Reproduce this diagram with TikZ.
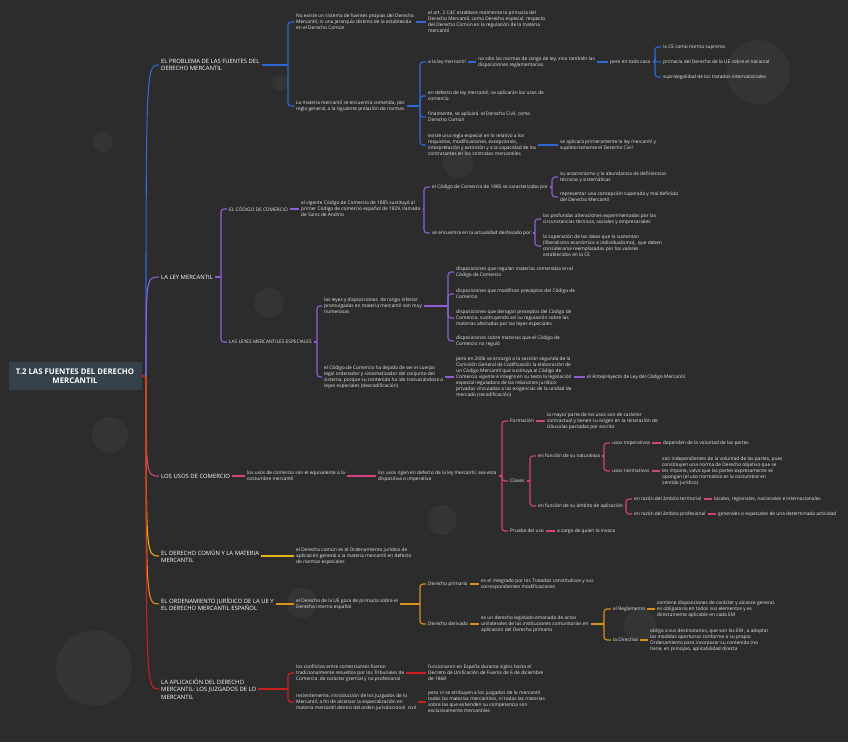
\documentclass[tikz,border=0pt]{standalone}
\usepackage{fontspec}
\setmainfont{Open Sans}
\usetikzlibrary{positioning}

\definecolor{bg}{HTML}{2C2C2C}
\definecolor{spotbg}{HTML}{343434}
\definecolor{rootbg}{HTML}{37414B}
\definecolor{txt}{HTML}{E8E8E8}
\definecolor{cblue}{HTML}{3068D8}
\definecolor{cpurple}{HTML}{8F5FD8}
\definecolor{cpink}{HTML}{D8407F}
\definecolor{cyellow}{HTML}{E3B31C}
\definecolor{corange}{HTML}{D9911A}
\definecolor{cred}{HTML}{C8201E}

\begin{document}
\begin{tikzpicture}[
  x=1pt, y=-1pt,
  every node/.style={text=txt, align=left, inner xsep=2pt, inner ysep=1pt},
  note/.style={anchor=west, font=\fontsize{4.8}{5.9}\selectfont},
  topic/.style={anchor=west, text=white, font=\fontsize{5.9}{7.4}\selectfont},
  root/.style={fill=rootbg, text=white, align=center, font=\bfseries\fontsize{7.8}{9.3}\selectfont,
    minimum width=133pt, minimum height=28pt},
  link/.style={line width=1.1pt},
  fork/.style={link, rounded corners=3pt},
  spot/.style={fill=spotbg}
]
  \fill[bg] (0,0) rectangle (848,742);
  \foreach \x/\y/\r in {103/142/10, 280/83/8, 458/163/15, 758/72/32, 269/303/15, 110/435/18,
                        442/520/15, 302/603/15, 640/625/16, 94/668/38}
    \fill[spot] (\x,\y) circle[radius=\r pt];

  \node[root] (root) at (75,376) {T.2 LAS FUENTES DEL DERECHO\\MERCANTIL};
  \coordinate (trunk) at (146,376);

  % el problema de las fuentes
  \node[topic] (problema) at (159,65) {EL PROBLEMA DE LAS FUENTES DEL\\DERECHO MERCANTIL};
  \node[note] (no-existe) at (294,22) {No existe un sistema de fuentes propias del Derecho\\Mercantil, ni una jerarquía distinta de la establecida\\en el Derecho Común};
  \node[note] (art-2) at (426,22) {el art. 2 CdC establece realmente la primacía del\\Derecho Mercantil, como Derecho especial, respecto\\del Derecho Común en la regulación de la materia\\mercantil};
  \node[note] (prelacion) at (294,106) {La materia mercantil se encuentra sometida, por\\regla general, a la siguiente prelación de normas};
  \node[note] (ley-merc) at (426,62) {a la ley mercantil};
  \node[note] (rango) at (476,62) {no sólo las normas de rango de ley, sino también las\\disposiciones reglamentarias.};
  \node[note] (todo-caso) at (608,62) {pero en todo caso};
  \node[note] (ce) at (661,47) {la CE como norma suprema};
  \node[note] (ue-nac) at (661,62) {primacía del Derecho de la UE sobre el nacional};
  \node[note] (tratados) at (661,77) {supralegalidad de los tratados internacionales};
  \node[note] (usos-def) at (426,96) {en defecto de ley mercantil, se aplicarán los usos de\\comercio};
  \node[note] (civil) at (426,117) {finalmente, se aplicará \ el Derecho Civil, como\\Derecho Común};
  \node[note] (regla-esp) at (426,145) {existe una regla especial en lo relativo a los\\requisitos, modificaciones, excepciones,\\interpretación y extinción y a la capacidad de los\\contratantes en los contratos mercantiles};
  \node[note] (supletorio) at (558,145) {se aplicará primeramente la ley mercantil y\\supletoriamente el Derecho Civil};

  \path (problema.east -| no-existe.west) ++(-6,0) coordinate (f1);
  \draw[link,cblue] (problema.east) -- (f1);
  \foreach \c in {no-existe,prelacion} \draw[fork,cblue] (f1) |- (\c.west);
  \draw[link,cblue] (no-existe) -- (art-2);
  \path (prelacion.east -| ley-merc.west) ++(-6,0) coordinate (f2);
  \draw[link,cblue] (prelacion.east) -- (f2);
  \foreach \c in {ley-merc,usos-def,civil,regla-esp} \draw[fork,cblue] (f2) |- (\c.west);
  \draw[link,cblue] (ley-merc) -- (rango);
  \draw[link,cblue] (rango) -- (todo-caso);
  \path (todo-caso.east -| ce.west) ++(-6,0) coordinate (f3);
  \draw[link,cblue] (todo-caso.east) -- (f3);
  \foreach \c in {ce,ue-nac,tratados} \draw[fork,cblue] (f3) |- (\c.west);
  \draw[link,cblue] (regla-esp) -- (supletorio);

  % la ley mercantil
  \node[topic] (ley-mercantil) at (159,277) {LA LEY MERCANTIL};
  \node[note] (codigo) at (227,209) {EL CÓDIGO DE COMERCIO};
  \node[note] (vigente) at (299,209) {el vigente Código de Comercio de 1885 sustituyó al\\primer Código de comercio español de 1829, llamado\\de Sainz de Andino};
  \node[note] (caracterizaba) at (430,187) {el Código de Comercio de 1885 se caracterizaba por};
  \node[note] (anacronismo) at (558,177) {su anacronismo y la abundancia de deficiencias\\técnicas y sistemáticas};
  \node[note] (concepcion) at (558,197) {representar una concepción superada y mal definida\\del Derecho Mercantil};
  \node[note] (desfasado) at (430,233) {se encuentra en la actualidad desfasado por};
  \node[note] (alteraciones) at (541,219) {las profundas alteraciones experimentadas por las\\circunstancias técnicas, sociales y empresariales};
  \node[note] (superacion) at (541,246) {la superación de las ideas que lo sustentan\\(liberalismo económico e individualismo), \ que deben\\considerarse reemplazadas por los valores\\establecidos en la CE};
  \node[note] (especiales) at (227,342) {LAS LEYES MERCANTILES ESPECIALES};
  \node[note] (numerosas) at (322,306) {las leyes y disposiciones \ de rango inferior\\promulgadas en materia mercantil son muy\\numerosas};
  \node[note] (regulan) at (454,272) {disposiciones que regulan materias contenidas en el\\Código de Comercio};
  \node[note] (modifican) at (454,294) {disposiciones que modifican preceptos del Código de\\Comercio};
  \node[note] (derogan) at (454,318) {disposiciones que derogan preceptos del Código de\\Comercio, sustituyendo así su regulación sobre las\\materias afectadas por las leyes especiales};
  \node[note] (no-regulo) at (454,341) {disposiciones sobre materias que el Código de\\Comercio no reguló};
  \node[note] (descodif) at (322,377) {el Código de Comercio ha dejado de ser el cuerpo\\legal ordenador y sistematizador del conjunto del\\sistema, porque su contenido ha ido trasvasándose a\\leyes especiales (descodificación)};
  \node[note] (recodif) at (454,377) {pero en 2006 se encargó a la sección segunda de la\\Comisión General de Codificación la elaboración de\\un Código Mercantil que sustituya al Código de\\Comercio vigente e integre en su texto la legislación\\especial reguladora de las relaciones jurídico-\\privadas vinculadas a las exigencias de la unidad de\\mercado (recodificación)};
  \node[note] (anteproyecto) at (585,377) {el Anteproyecto de Ley del Código Mercantil};

  \path (ley-mercantil.east -| codigo.west) ++(-6,0) coordinate (f4);
  \draw[link,cpurple] (ley-mercantil.east) -- (f4);
  \foreach \c in {codigo,especiales} \draw[fork,cpurple] (f4) |- (\c.west);
  \draw[link,cpurple] (codigo) -- (vigente);
  \path (vigente.east -| caracterizaba.west) ++(-6,0) coordinate (f5);
  \draw[link,cpurple] (vigente.east) -- (f5);
  \foreach \c in {caracterizaba,desfasado} \draw[fork,cpurple] (f5) |- (\c.west);
  \path (caracterizaba.east -| anacronismo.west) ++(-6,0) coordinate (f6);
  \draw[link,cpurple] (caracterizaba.east) -- (f6);
  \foreach \c in {anacronismo,concepcion} \draw[fork,cpurple] (f6) |- (\c.west);
  \path (desfasado.east -| alteraciones.west) ++(-6,0) coordinate (f7);
  \draw[link,cpurple] (desfasado.east) -- (f7);
  \foreach \c in {alteraciones,superacion} \draw[fork,cpurple] (f7) |- (\c.west);
  \path (especiales.east -| numerosas.west) ++(-5,0) coordinate (f8);
  \draw[link,cpurple] (especiales.east) -- (f8);
  \foreach \c in {numerosas,descodif} \draw[fork,cpurple] (f8) |- (\c.west);
  \path (numerosas.east -| regulan.west) ++(-6,0) coordinate (f9);
  \draw[link,cpurple] (numerosas.east) -- (f9);
  \foreach \c in {regulan,modifican,derogan,no-regulo} \draw[fork,cpurple] (f9) |- (\c.west);
  \draw[link,cpurple] (descodif) -- (recodif);
  \draw[link,cpurple] (recodif) -- (anteproyecto);

  % los usos de comercio
  \node[topic] (usos) at (159,476) {LOS USOS DE COMERCIO};
  \node[note] (costumbre) at (245,476) {los usos de comercio son el equivalente a la\\costumbre mercantil};
  \node[note] (rigen) at (376,476) {los usos rigen en defecto de la ley mercantil, sea esta\\dispositiva o imperativa};
  \node[note] (formacion) at (508,421) {Formación};
  \node[note] (contractual) at (545,421) {la mayor parte de los usos son de carácter\\contractual y tienen su origen en la reiteración de\\cláusulas pactadas por escrito};
  \node[note] (clases) at (508,481) {Clases};
  \node[note] (naturaleza) at (536,456) {en función de su naturaleza};
  \node[note] (imperativos) at (610,443) {usos imperativos};
  \node[note] (voluntad) at (661,443) {dependen de la voluntad de las partes};
  \node[note] (normativos) at (610,471) {usos normativos};
  \node[note] (independientes) at (660,471) {son independientes de la voluntad de las partes, pues\\constituyen una norma de Derecho objetivo que se\\les impone, salvo que las partes expresamente se\\opongan (el uso normativo es la costumbre en\\sentido jurídico)};
  \node[note] (ambito) at (536,506) {en función de su ámbito de aplicación};
  \node[note] (territorial) at (632,499) {en razón del ámbito territorial};
  \node[note] (locales) at (712,499) {locales, regionales, nacionales e internacionales};
  \node[note] (profesional) at (632,514) {en razón del ámbito profesional};
  \node[note] (generales) at (716,514) {generales o especiales de una determinada actividad};
  \node[note] (prueba) at (508,531) {Prueba del uso};
  \node[note] (invoca) at (555,531) {a cargo de quien lo invoca};

  \draw[link,cpink] (usos) -- (costumbre);
  \draw[link,cpink] (costumbre) -- (rigen);
  \path (rigen.east -| formacion.west) ++(-6,0) coordinate (f10);
  \draw[link,cpink] (rigen.east) -- (f10);
  \foreach \c in {formacion,clases,prueba} \draw[fork,cpink] (f10) |- (\c.west);
  \draw[link,cpink] (formacion) -- (contractual);
  \path (clases.east -| naturaleza.west) ++(-6,0) coordinate (f11);
  \draw[link,cpink] (clases.east) -- (f11);
  \foreach \c in {naturaleza,ambito} \draw[fork,cpink] (f11) |- (\c.west);
  \path (naturaleza.east -| imperativos.west) ++(-6,0) coordinate (f12);
  \draw[link,cpink] (naturaleza.east) -- (f12);
  \foreach \c in {imperativos,normativos} \draw[fork,cpink] (f12) |- (\c.west);
  \draw[link,cpink] (imperativos) -- (voluntad);
  \draw[link,cpink] (normativos) -- (independientes);
  \path (ambito.east -| territorial.west) ++(-6,0) coordinate (f13);
  \draw[link,cpink] (ambito.east) -- (f13);
  \foreach \c in {territorial,profesional} \draw[fork,cpink] (f13) |- (\c.west);
  \draw[link,cpink] (territorial) -- (locales);
  \draw[link,cpink] (profesional) -- (generales);
  \draw[link,cpink] (prueba) -- (invoca);

  % el derecho comun
  \node[topic] (comun) at (159,556) {EL DERECHO COMÚN Y LA MATERIA\\MERCANTIL};
  \node[note] (comun-def) at (294,556) {el Derecho común es el Ordenamiento jurídico de\\aplicación general a la materia mercantil en defecto\\de normas especiales};
  \draw[link,cyellow] (comun) -- (comun-def);

  % el ordenamiento de la UE
  \node[topic] (ue-esp) at (159,604) {EL ORDENAMIENTO JURÍDICO DE LA UE Y\\EL DERECHO MERCANTIL ESPAÑOL};
  \node[note] (primacia) at (294,604) {el Derecho de la UE goza de primacía sobre el\\Derecho interno español};
  \node[note] (primario) at (426,584) {Derecho primario};
  \node[note] (constitutivos) at (479,584) {es el integrado por los Tratados constitutivos y sus\\correspondientes modificaciones};
  \node[note] (derivado) at (426,624) {Derecho derivado};
  \node[note] (legislado) at (479,624) {es un derecho legislado emanado de actos\\unilaterales de las instituciones comunitarias en\\aplicación del Derecho primario};
  \node[note] (reglamento) at (611,609) {el Reglamento};
  \node[note] (contiene) at (655,609) {contiene disposiciones de carácter y alcance general,\\es obligatorio en todos sus elementos y es\\directamente aplicable en cada EM};
  \node[note] (directiva) at (611,640) {la Directiva};
  \node[note] (obliga) at (648,640) {obliga a sus destinatarios, que son los EM , a adoptar\\las medidas oportunas conforme a su propio\\Ordenamiento para incorporar su contenido (no\\tiene, en principio, aplicabilidad directa};

  \draw[link,corange] (ue-esp) -- (primacia);
  \path (primacia.east -| primario.west) ++(-6,0) coordinate (f14);
  \draw[link,corange] (primacia.east) -- (f14);
  \foreach \c in {primario,derivado} \draw[fork,corange] (f14) |- (\c.west);
  \draw[link,corange] (primario) -- (constitutivos);
  \draw[link,corange] (derivado) -- (legislado);
  \path (legislado.east -| reglamento.west) ++(-7,0) coordinate (f15);
  \draw[link,corange] (legislado.east) -- (f15);
  \foreach \c in {reglamento,directiva} \draw[fork,corange] (f15) |- (\c.west);
  \draw[link,corange] (reglamento) -- (contiene);
  \draw[link,corange] (directiva) -- (obliga);

  % los juzgados de lo mercantil
  \node[topic] (juzgados) at (159,689) {LA APLICACIÓN DEL DERECHO\\MERCANTIL: LOS JUZGADOS DE LO\\MERCANTIL};
  \node[note] (conflictos) at (294,673) {los conflictos entre comerciantes fueron\\tradicionalmente resueltos por los Tribunales de\\Comercio, de carácter gremial y no profesional};
  \node[note] (fueros) at (426,673) {funcionaron en España durante siglos hasta el\\Decreto de Unificación de Fueros de 6 de diciembre\\de 1868};
  \node[note] (recientemente) at (294,702) {recientemente, introducción de los Juzgados de lo\\Mercantil, a fin de alcanzar la especialización en\\materia mercantil dentro del orden jurisdiccional \ civil};
  \node[note] (atribuyen) at (426,702) {pero ni se atribuyen a los juzgados de lo mercantil\\todas las materias mercantiles, ni todas las materias\\sobre las que extienden su competencia son\\exclusivamente mercantiles};

  \path (juzgados.east -| conflictos.west) ++(-6,0) coordinate (f16);
  \draw[link,cred] (juzgados.east) -- (f16);
  \foreach \c in {conflictos,recientemente} \draw[fork,cred] (f16) |- (\c.west);
  \draw[link,cred] (conflictos) -- (fueros);
  \draw[link,cred] (recientemente) -- (atribuyen);

  % tronco
  \draw[link,cred] (root.east) -- (trunk);
  \foreach \b/\col in {problema/cblue, ley-mercantil/cpurple, usos/cpink, comun/cyellow,
                       ue-esp/corange, juzgados/cred}
    \draw[link,\col] (trunk) .. controls (trunk |- \b.west) .. (\b.west);
\end{tikzpicture}
\end{document}
